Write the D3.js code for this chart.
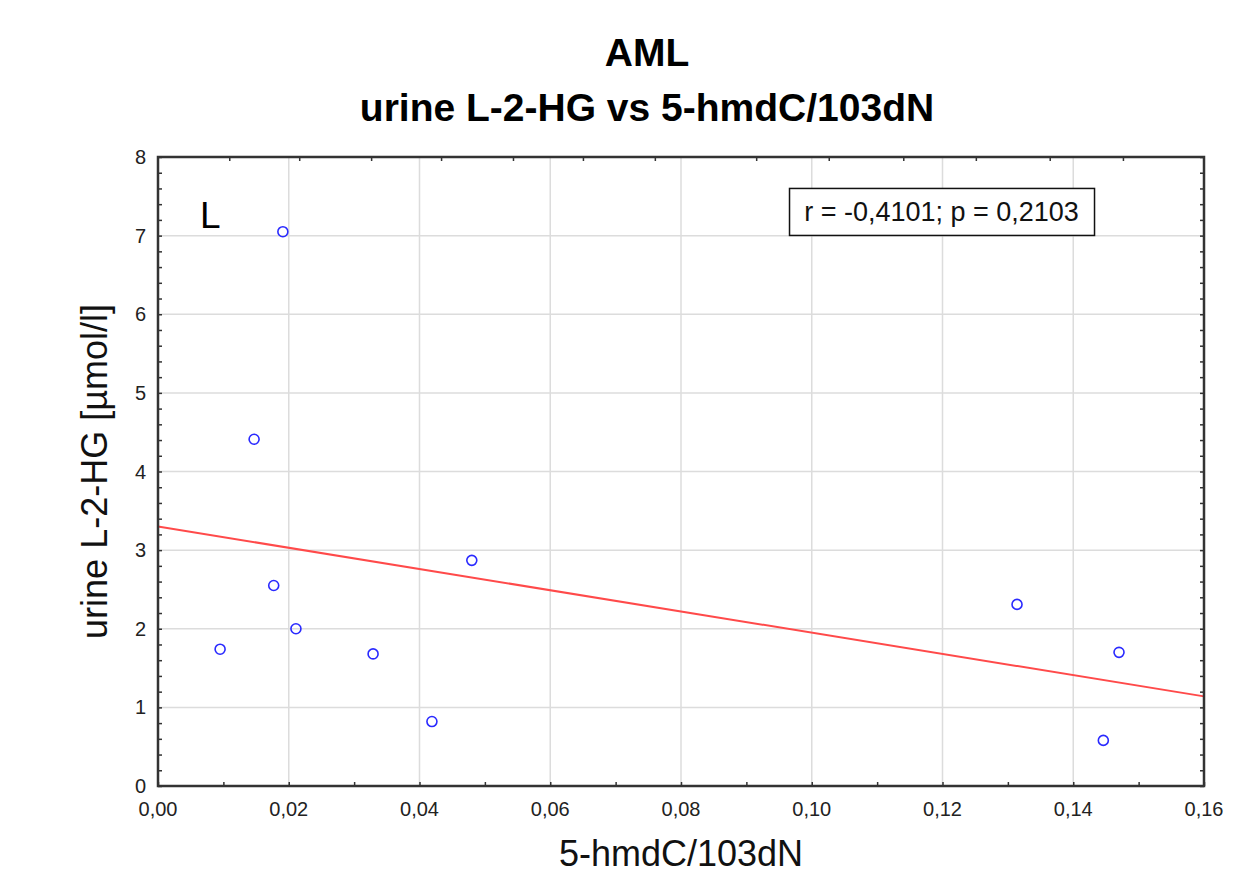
<!DOCTYPE html>
<html>
<head>
<meta charset="utf-8">
<script src="https://cdn.jsdelivr.net/npm/d3@7"></script>
<style>
  body { margin: 0; background: #fff; }
  text { font-family: "Liberation Sans", Arial, sans-serif; }
</style>
</head>
<body>
<div id="chart"></div>
<script>
const width = 1258;
const height = 892;

// data
const xValues = [0.0095, 0.0147, 0.0177, 0.0191, 0.0211, 0.0329, 0.0419, 0.0480, 0.1314, 0.1446, 0.1470];
const yValues = [1.74, 4.41, 2.55, 7.05, 2.00, 1.68, 0.82, 2.87, 2.31, 0.58, 1.70];
const fitX = [0, 0.16];
const fitY = [3.30, 1.14];
const xTicks = [0, 0.02, 0.04, 0.06, 0.08, 0.10, 0.12, 0.14, 0.16];
const yTicks = [0, 1, 2, 3, 4, 5, 6, 7, 8];
// odd spacing ticks on the top edge
const topTicks = [0.0109, 0.0216, 0.0326, 0.0433, 0.0543, 0.065, 0.076, 0.0915, 0.1026, 0.114, 0.1251, 0.1364, 0.1476];
const statText = "r = -0,4101; p = 0,2103";

const margin = {left: 158, top: 157, right: 54, bottom: 106};
const w = width - margin.left - margin.right;
const h = height - margin.top - margin.bottom;

const svg = d3.select("#chart")
  .append("svg")
  .attr("width", width)
  .attr("height", height);

const x = d3.scaleLinear().domain([0, 0.16]).range([0, w]);
const y = d3.scaleLinear().domain([0, 8]).range([h, 0]);
const fmt = d => d3.format(".2f")(d).replace(".", ",");

const g = svg.append("g").attr("transform", `translate(${margin.left},${margin.top})`);

// grid
g.append("g").selectAll("line").data(xTicks.slice(1, -1)).enter().append("line")
  .attr("x1", d => x(d)).attr("x2", d => x(d)).attr("y1", 0).attr("y2", h)
  .attr("stroke", "#dcdcdc").attr("stroke-width", 1.5);
g.append("g").selectAll("line").data(yTicks.slice(1, -1)).enter().append("line")
  .attr("y1", d => y(d)).attr("y2", d => y(d)).attr("x1", 0).attr("x2", w)
  .attr("stroke", "#dcdcdc").attr("stroke-width", 1.5);

// fit line
g.append("line")
  .attr("x1", x(fitX[0])).attr("y1", y(fitY[0]))
  .attr("x2", x(fitX[1])).attr("y2", y(fitY[1]))
  .attr("stroke", "#ff4a4a").attr("stroke-width", 2);

// points
g.selectAll("circle").data(xValues).enter().append("circle")
  .attr("cx", d => x(d))
  .attr("cy", (d, i) => y(yValues[i]))
  .attr("r", 5)
  .attr("fill", "none")
  .attr("stroke", "#2a2aff")
  .attr("stroke-width", 1.6);

// axes (ticks pointing inward)
const minorX = d3.range(0, 17).map(i => i / 100);
const minorY = d3.range(0, 41).map(i => i / 5);

const xBottom = g.append("g").attr("transform", `translate(0,${h})`)
  .call(d3.axisBottom(x).tickValues(minorX).tickSize(-4).tickFormat(""));
const yLeft = g.append("g")
  .call(d3.axisLeft(y).tickValues(minorY).tickSize(-4).tickFormat(""));
const yRight = g.append("g").attr("transform", `translate(${w},0)`)
  .call(d3.axisRight(y).tickValues(minorY).tickSize(-4).tickFormat(""));
const xTop = g.append("g")
  .call(d3.axisTop(x).tickValues(topTicks).tickSize(-4).tickFormat(""));
[xBottom, yLeft, yRight, xTop].forEach(a => {
  a.select(".domain").remove();
  a.selectAll("line").attr("stroke", "#333").attr("stroke-width", 1.5);
});

// tick labels
g.append("g").selectAll("text").data(xTicks).enter().append("text")
  .attr("x", d => x(d)).attr("y", h + 30)
  .attr("text-anchor", "middle")
  .attr("font-size", 20).attr("fill", "#222")
  .text(fmt);
g.append("g").selectAll("text").data(yTicks).enter().append("text")
  .attr("x", -12).attr("y", d => y(d) + 7)
  .attr("text-anchor", "end")
  .attr("font-size", 20).attr("fill", "#222")
  .text(d => d);

// frame
g.append("rect").attr("width", w).attr("height", h)
  .attr("fill", "none").attr("stroke", "#333").attr("stroke-width", 2.5);

// stat box
const box = g.append("g").attr("transform", `translate(${x(0.0966)},${y(7.6)})`);
box.append("rect").attr("width", 305).attr("height", 47)
  .attr("fill", "#fff").attr("stroke", "#111").attr("stroke-width", 1.5);
box.append("text").attr("x", 152).attr("y", 33)
  .attr("text-anchor", "middle").attr("font-size", 27).attr("fill", "#111")
  .text(statText);

// panel letter
g.append("text").attr("x", 42).attr("y", 71)
  .attr("font-size", 37).attr("fill", "#000").text("L");

// titles
svg.append("text").attr("x", 647).attr("y", 66)
  .attr("text-anchor", "middle").attr("font-size", 39).attr("font-weight", "bold")
  .text("AML");
svg.append("text").attr("x", 647).attr("y", 121)
  .attr("text-anchor", "middle").attr("font-size", 39).attr("font-weight", "bold")
  .text("urine L-2-HG vs 5-hmdC/103dN");

svg.append("text").attr("x", margin.left + w / 2).attr("y", 866)
  .attr("text-anchor", "middle").attr("font-size", 36).attr("fill", "#111")
  .text("5-hmdC/103dN");
svg.append("text")
  .attr("transform", `translate(107,${margin.top + h / 2}) rotate(-90)`)
  .attr("text-anchor", "middle").attr("font-size", 36).attr("fill", "#111")
  .text("urine L-2-HG [µmol/l]");
</script>
</body>
</html>
